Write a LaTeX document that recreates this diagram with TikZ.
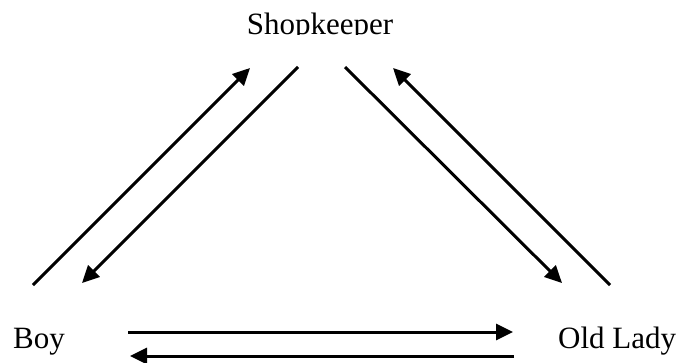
\documentclass[tikz,border=0pt]{standalone}
\usepackage{fontspec}
\setmainfont{Liberation Serif}
\usetikzlibrary{arrows.meta}
\tikzset{
  flow/.style={line width=3pt,-{Triangle[length=17pt,width=16pt]}},
  who/.style={inner sep=0pt,font=\fontsize{31}{36}\selectfont}
}
\begin{document}
\begin{tikzpicture}[x=1pt,y=-1pt]
      \useasboundingbox (0,0) rectangle (680,362);
      \begin{scope}
        \clip (0,0) rectangle (680,34.5);
        \draw (320,34) node[who,anchor=base] (shop){Shopkeeper};
      \end{scope}
      \draw
        (13,348) node[who,anchor=base west] (boy){Boy}
        (558,348) node[who,anchor=base west] (lady){Old Lady};
      \coordinate (b1) at (33,285);
      \coordinate (s1) at (250,68);
      \coordinate (s2) at (298,67);
      \coordinate (b2) at (82,283);
      \coordinate (s3) at (345,67);
      \coordinate (l3) at (562,283);
      \coordinate (l4) at (610,285);
      \coordinate (s4) at (393,68);
      \coordinate (b5) at (128,332);
      \coordinate (l5) at (513,332);
      \coordinate (l6) at (514,356);
      \coordinate (b6) at (130,356);
      \begin{scope}[flow]
        \draw (b1) to (s1);
        \draw (s2) to (b2);
        \draw (s3) to (l3);
        \draw (l4) to (s4);
        \draw (b5) to (l5);
        \draw (l6) to (b6);
      \end{scope}
    \end{tikzpicture}
\end{document}
